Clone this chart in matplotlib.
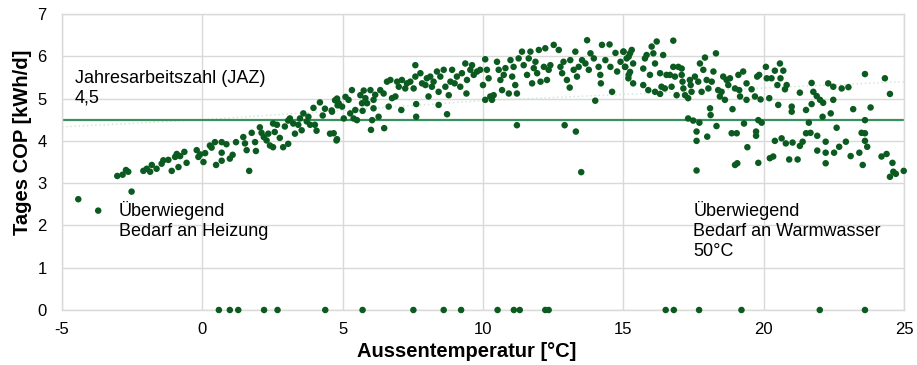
import matplotlib
matplotlib.use("Agg")
import matplotlib.pyplot as plt
import numpy as np

plt.rcParams['font.family'] = ['Liberation Sans', 'DejaVu Sans']
plt.rcParams['axes.unicode_minus'] = False

# Daily COP vs outside temperature
temp = [
    -4.42, -3.71, -2.52, -3.03, -2.84, -2.72, -2.64, -2.10, -1.98, -1.80, -1.86, -1.63, -1.45, -1.39,
    -1.21, -1.09, -0.97, -0.91, -0.85, -0.79, -0.64, -0.56, -0.20, -0.14, -0.08, 0.04, 0.10, 0.27,
    0.33, 0.45, 0.49, 0.69, 0.69, 0.69, 0.86, 0.98, 1.08, 1.20, 1.46, 1.52, 1.58, 1.67, 1.76, 1.88,
    1.91, 2.05, 2.11, 2.19, 2.29, 2.35, 2.41, 2.52, 2.52, 2.58, 2.66, 2.76, 2.88, 2.94, 3.06, 3.06,
    3.12, 3.24, 3.30, 3.42, 3.48, 3.54, 3.60, 3.72, 3.78, 3.84, 3.96, 4.01, 4.07, 4.19, 4.29, 4.37,
    4.55, 4.61, 4.73, 4.78, 4.82,
    4.62, 4.80, 4.68, 4.80, 4.86, 4.98, 5.04, 5.10, 5.21, 5.27, 5.33, 5.39, 5.45, 5.51, 5.63, 5.69,
    5.71, 5.75, 5.81, 5.87, 5.99, 6.05, 6.01, 6.10, 6.10, 6.16, 6.28, 6.34, 6.46, 6.48, 6.58, 6.64,
    6.70, 6.76, 6.88, 6.94, 7.00, 7.09, 7.11, 7.23, 7.29, 7.41, 7.53, 7.59, 7.59, 7.62, 7.62, 7.77,
    7.83, 7.95, 8.00, 8.06, 8.12, 8.18, 8.24, 8.36, 8.42, 8.42, 8.48, 8.60, 8.66, 8.72, 8.78, 8.84,
    8.90, 8.99, 9.07, 9.19, 9.25, 9.37, 9.41, 9.43, 9.55, 9.61, 9.67, 9.79, 9.90, 10.00, 10.08, 10.08,
    10.14, 10.20, 10.26, 10.32, 10.38, 10.50, 10.56, 10.62, 10.68, 10.74, 10.80, 10.92, 10.98, 11.04,
    11.09, 11.15, 11.21, 11.21, 11.27, 11.39, 11.45, 11.57, 11.63, 11.69, 11.75, 11.81, 11.87, 11.93,
    11.99, 12.05, 12.17, 12.22, 12.28, 12.34, 12.40, 12.52, 12.70, 12.76, 12.82, 12.87, 12.91, 12.99,
    13.09, 13.11, 13.23, 13.29, 13.31, 13.35, 13.41, 13.50, 13.53, 13.65, 13.71, 13.77, 13.83, 13.95,
    14.00, 14.12, 14.18, 14.20, 14.24, 14.36, 14.51, 14.54, 14.60, 14.72, 14.78, 14.90, 15.01, 15.07,
    15.19, 15.19,
    15.00, 15.06, 15.12, 15.24, 15.30, 15.24, 15.35, 15.18, 15.35, 15.71, 15.77, 15.83, 15.71, 15.89,
    15.95, 16.01, 16.07, 16.13, 16.19, 16.13, 16.31, 16.31, 16.36, 16.42, 16.48, 16.54, 16.66, 16.72,
    16.78, 16.78, 16.84, 16.90, 16.96, 17.08, 17.08, 17.11, 17.14, 17.20, 17.31, 17.31, 17.37, 17.40,
    17.43, 17.49, 17.55, 17.61, 17.61, 17.61, 17.67, 17.71, 17.73, 17.79, 17.85, 17.91, 17.97, 17.99,
    18.03, 18.09, 18.11, 18.15, 18.21, 18.30, 18.32, 18.38, 18.44, 18.50, 18.56, 18.62, 18.68, 18.74,
    18.80, 18.86, 18.89, 18.98, 18.98, 19.04, 19.06, 19.10, 19.13, 19.16, 19.27, 19.30, 19.39, 19.39,
    19.42, 19.57, 19.69, 19.73, 19.73, 19.77, 19.81, 19.81, 19.84, 19.89, 19.93, 20.08, 20.11, 20.20,
    20.22, 20.28, 20.34, 20.40, 20.40, 20.49, 20.52, 20.58, 20.60, 20.64, 20.70, 20.76, 20.79, 20.82,
    20.91, 21.00, 21.00, 21.03, 21.21, 21.29, 21.29, 21.39, 21.51, 21.51, 21.61, 21.67, 21.71, 21.71,
    21.77, 21.89, 21.91, 21.91, 22.01, 22.10, 22.12, 22.21, 22.21, 22.21, 22.30, 22.39, 22.48, 22.48,
    22.51, 22.60, 22.69, 22.78, 22.93, 23.02, 23.10, 23.19, 23.41, 23.49, 23.53, 23.61, 23.61, 23.61,
    23.61, 23.69, 23.81, 24.20, 24.32, 24.38, 24.50, 24.50, 24.59, 24.62, 24.71, 24.99,
    0.59, 0.98, 1.28, 2.20, 2.68, 4.38, 5.71, 7.52, 8.60, 9.22, 10.52, 11.10, 11.31, 12.22, 12.34,
    16.51, 16.80, 17.70, 19.21, 22.00, 23.61,
]
cop = [
    2.62, 2.35, 2.80, 3.17, 3.20, 3.31, 3.27, 3.29, 3.34, 3.43, 3.27, 3.34, 3.46, 3.54,
    3.55, 3.29, 3.62, 3.69, 3.38, 3.64, 3.74, 3.48, 3.78, 3.62, 3.68, 3.50, 3.71, 3.89,
    3.84, 3.97, 3.43, 3.97, 3.72, 3.53, 3.92, 3.58, 3.67, 3.97, 4.09, 3.94, 3.78, 3.29, 4.19, 3.97,
    3.76, 4.32, 4.19, 4.09, 4.01, 4.17, 3.89, 4.41, 3.85, 4.21, 4.38, 4.07, 3.85, 4.34, 4.48, 3.93,
    4.53, 4.41, 4.17, 4.38, 4.53, 4.25, 4.65, 4.46, 4.57, 4.38, 4.78, 4.38, 4.24, 4.91, 4.60, 4.76,
    4.17, 4.72, 4.96, 4.01, 4.84,
    4.69, 5.00, 4.18, 4.04, 4.89, 4.81, 4.53, 5.04, 4.97, 4.65, 5.20, 4.53, 4.73, 4.49, 5.08, 4.89,
    4.71, 5.19, 5.01, 4.89, 5.20, 4.49, 4.26, 4.97, 4.77, 5.09, 4.57, 5.20, 5.12, 4.30, 5.40, 4.81,
    5.44, 5.01, 5.05, 5.40, 5.28, 4.73, 5.44, 5.24, 5.36, 5.40, 5.24, 5.79, 5.52, 4.87, 4.57, 5.60,
    5.36, 5.32, 5.48, 5.05, 5.52, 5.28, 5.40, 5.64, 5.16, 4.85, 5.52, 5.68, 5.28, 4.63, 5.08, 5.40,
    5.68, 5.36, 5.52, 5.28, 5.60, 5.83, 5.12, 5.44, 5.68, 5.79, 5.56, 5.64, 5.68, 5.32, 5.93, 4.97,
    5.68, 5.48, 5.05, 4.97, 5.08, 5.87, 5.68, 5.44, 5.20, 5.56, 5.72, 5.12, 5.91, 5.52,
    5.75, 5.32, 5.12, 4.37, 5.95, 6.11, 5.79, 5.56, 5.95, 6.11, 5.36, 5.72, 5.87, 5.60,
    6.15, 5.40, 5.75, 6.19, 5.44, 5.68, 5.79, 6.27, 6.15, 5.75, 5.60, 5.87, 4.37, 5.44,
    5.26, 5.91, 5.68, 6.11, 4.22, 5.52, 5.75, 3.26, 5.91, 5.83, 6.38, 5.68, 6.07, 5.95,
    4.95, 5.75, 5.56, 5.36, 6.27, 5.91, 6.28, 5.75, 5.16, 6.08, 5.64, 5.87, 6.11, 5.75,
    5.56, 5.99,
    6.11, 5.75, 5.95, 6.07, 6.15, 5.63, 5.83, 5.48, 5.36, 5.71, 5.95, 6.03, 5.32, 5.20,
    5.56, 6.23, 6.07, 5.83, 6.35, 5.16, 5.60, 5.11, 5.28, 6.03, 5.24, 5.56, 5.56, 5.28,
    6.37, 5.75, 5.52, 5.08, 5.75, 5.71, 5.56, 5.40, 5.24, 5.08, 5.01, 4.53, 5.44, 5.32,
    5.16, 4.48, 5.52, 4.22, 4.00, 3.30, 5.40, 4.43, 5.83, 5.16, 5.68, 5.97, 5.44, 4.10,
    5.24, 4.77, 4.61, 5.40, 5.64, 6.07, 4.35, 5.20, 5.05, 5.16, 5.52, 4.97, 5.44, 5.32,
    5.48, 4.18, 4.75, 5.24, 3.43, 4.18, 3.47, 5.56, 5.20, 5.05, 5.64, 4.41, 5.36, 4.97,
    3.85, 5.22, 5.05, 4.22, 4.12, 5.52, 4.49, 3.48, 5.56, 4.98, 4.43, 5.75, 5.48, 5.01,
    3.59, 5.48, 3.63, 5.66, 4.00, 5.32, 4.85, 5.83, 5.48, 4.06, 5.66, 5.22, 3.94, 5.32,
    3.56, 4.81, 4.69, 3.96, 3.56, 5.14, 3.88, 3.98, 4.73, 4.18, 4.43, 4.19, 5.37, 4.87,
    5.16, 5.06, 4.12, 3.77, 4.97, 4.57, 4.90, 3.98, 3.72, 3.47, 5.36, 4.65, 5.28, 4.97,
    3.72, 4.31, 3.86, 5.24, 3.98, 5.27, 3.64, 4.75, 3.72, 4.19, 3.43, 5.58, 4.49, 4.18,
    4.00, 3.86, 4.79, 3.63, 5.48, 3.69, 5.11, 3.15, 3.48, 3.27, 3.22, 3.29,
    0, 0, 0, 0, 0, 0, 0, 0, 0, 0, 0, 0, 0, 0, 0,
    0, 0, 0, 0, 0, 0,
]

# faint trend line
trend_x = [-5, 0, 5, 10, 15, 20, 25]
trend_y = [4.33, 4.50, 4.72, 4.95, 5.10, 5.25, 5.40]

jaz = 4.5

x_ticks = [-5, 0, 5, 10, 15, 20, 25]
y_ticks = [0, 1, 2, 3, 4, 5, 6, 7]

fig = plt.figure(figsize=(9.17, 3.65), dpi=100)
ax = fig.add_axes([0.0676, 0.1507, 0.9182, 0.8109])

ax.set_xlim(-5, 25)
ax.set_ylim(0, 7)
ax.set_xticks(x_ticks)
ax.set_yticks(y_ticks)
ax.grid(True, color='#d9d9d9', linewidth=1.0)
ax.set_axisbelow(True)
for s in ax.spines.values():
    s.set_color('#d9d9d9')
    s.set_linewidth(1.0)
ax.tick_params(length=0, labelsize=12, colors='#000000')
ax.tick_params(axis='x', pad=9)
ax.tick_params(axis='y', pad=11)

ax.plot(trend_x, trend_y, linestyle=(0, (1, 2)), color='#cfe3d6', linewidth=1.0, zorder=2)
ax.axhline(jaz, color='#3a9160', linewidth=1.6, zorder=2)

ax.scatter(temp, cop, s=22, color='#0b5a1f', edgecolors='none', zorder=3, clip_on=False)

ax.text(-4.55, 5.68, 'Jahresarbeitszahl (JAZ)\n4,5', fontsize=13, va='top', ha='left',
        linespacing=1.22)
ax.text(-2.97, 2.57, 'Überwiegend\nBedarf an Heizung', fontsize=13, va='top', ha='left',
        linespacing=1.22)
ax.text(17.49, 2.57, 'Überwiegend\nBedarf an Warmwasser\n50°C', fontsize=13, va='top', ha='left',
        linespacing=1.22)

ax.set_xlabel('Aussentemperatur [°C]', fontsize=14.5, fontweight='bold', labelpad=3)
ax.set_ylabel('Tages COP [kWh/d]', fontsize=14.5, fontweight='bold', labelpad=4)
ax.xaxis.label.set_x(0.481)
ax.yaxis.label.set_y(0.568)

fig.savefig('out.png', dpi=100)
